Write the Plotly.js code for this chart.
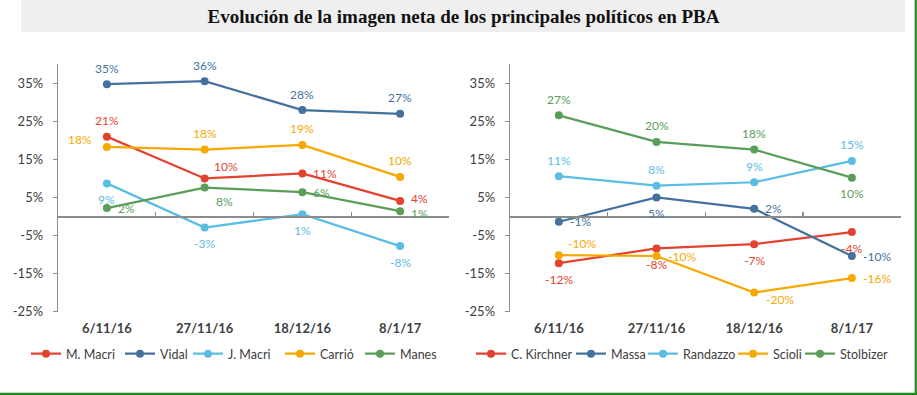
<!DOCTYPE html>
<html>
<head>
<meta charset="utf-8">
<script src="https://cdn.plot.ly/plotly-3.0.1.min.js"></script>
<style>html,body{margin:0;padding:0;background:#fff;}#chart{width:917px;height:395px;}</style>
</head>
<body>
<div id="chart"></div>
<script>
// ---- Data ----
const categories = ['6/11/16', '27/11/16', '18/12/16', '8/1/17'];
const yTickVals = [-25, -15, -5, 5, 15, 25, 35];
const yTickText = ['-25%', '-15%', '-5%', '5%', '15%', '25%', '35%'];
const titleText = 'Evolución de la imagen neta de los principales políticos en PBA';

// Left chart
const leftNames = ['M. Macri', 'Vidal', 'J. Macri', 'Carrió', 'Manes'];
const mMacri = [21.0, 10.0, 11.3, 4.1];
const vidal = [34.8, 35.6, 28.0, 27.0];
const jMacri = [8.7, -2.9, 0.6, -7.8];
const carrio = [18.3, 17.6, 18.8, 10.4];
const manes = [2.2, 7.6, 6.4, 1.4];

// Right chart
const rightNames = ['C. Kirchner', 'Massa', 'Randazzo', 'Scioli', 'Stolbizer'];
const cKirchner = [-12.3, -8.4, -7.3, -4.1];
const massa = [-1.4, 5.0, 2.0, -10.4];
const randazzo = [10.6, 8.1, 9.0, 14.6];
const scioli = [-10.2, -10.4, -20.0, -16.2];
const stolbizer = [26.6, 19.6, 17.6, 10.2];

// ---- Styles / layout ----
const colors = ['#E2432F', '#44719E', '#5BBDE2', '#F5A800', '#5A9E5A'];
const labelPos = {
  left: [
    ['t', 'tr', 'r', 'ru'],
    ['t', 't', 't', 't'],
    ['b', 'b', 'b', 'b'],
    ['tl', 't', 't', 't'],
    ['r', 'br', 'r', 'rd']
  ],
  right: [
    ['b', 'b', 'b', 'b'],
    ['r', 'b', 'r', 'r'],
    ['t', 't', 't', 't'],
    ['tr', 'r', 'rb', 'r'],
    ['t', 't', 't', 'b']
  ]
};
const posStyle = {
  t:  {xanchor: 'center', xshift: 0,   yshift: 16},
  b:  {xanchor: 'center', xshift: 0,   yshift: -16},
  r:  {xanchor: 'left',   xshift: 9,   yshift: 0},
  ru: {xanchor: 'left',   xshift: 9,   yshift: 2},
  rd: {xanchor: 'left',   xshift: 9,   yshift: -2},
  tl: {xanchor: 'right',  xshift: -13, yshift: 7},
  tr: {xanchor: 'left',   xshift: 7,   yshift: 12},
  br: {xanchor: 'left',   xshift: 9,   yshift: -14},
  rb: {xanchor: 'left',   xshift: 10,  yshift: -7}
};
// legend entry text start (px) for each series
const legendTextStartL = [66, 160, 228, 320, 400];
const legendTextStartR = [511, 611, 683, 773, 840];

const W = 917, H = 395;
const xDomL = [58 / W, 449 / W];
const xDomR = [510 / W, 900.7 / W];
const yDom = [1 - 311.5 / H, 1 - 64.4 / H];
const yRange = [-25, 40];
const zeroPos = yDom[0] + (0 - yRange[0]) / (yRange[1] - yRange[0]) * (yDom[1] - yDom[0]);

const font = 'Lato, "Open Sans", sans-serif';
const traces = [];
const annotations = [];
const legends = {};
let legendCount = 0;

function legendCfg(textStart) {
  return {
    orientation: 'h', x: (textStart - 40) / W, xanchor: 'left',
    y: 1 - 354 / H, yanchor: 'middle',
    font: {family: font, size: 12.5, color: '#404040'},
    itemwidth: 30, bgcolor: 'rgba(0,0,0,0)', borderwidth: 0
  };
}

function addChart(names, series, xa, ya, posList, textStarts) {
  series.forEach((vals, i) => {
    legendCount += 1;
    const lid = legendCount === 1 ? 'legend' : 'legend' + legendCount;
    legends[lid] = legendCfg(textStarts[i]);
    traces.push({
      type: 'scatter', mode: 'lines+markers',
      name: names[i], x: categories, y: vals,
      xaxis: xa, yaxis: ya, legend: lid,
      line: {color: colors[i], width: 2.25},
      marker: {color: colors[i], size: 8},
      hoverinfo: 'skip'
    });
    vals.forEach((v, j) => {
      const p = posStyle[posList[i][j]];
      annotations.push({
        xref: xa, yref: ya, x: categories[j], y: v,
        text: Math.round(v) + '%', showarrow: false,
        xanchor: p.xanchor, yanchor: 'middle',
        xshift: p.xshift, yshift: p.yshift,
        font: {family: font, size: 12, color: colors[i]}
      });
    });
  });
}

addChart(leftNames, [mMacri, vidal, jMacri, carrio, manes], 'x', 'y', labelPos.left, legendTextStartL);
addChart(rightNames, [cKirchner, massa, randazzo, scioli, stolbizer], 'x2', 'y2', labelPos.right, legendTextStartR);

// dummy traces for the zero-crossing axes
traces.push({type: 'scatter', x: [], y: [], xaxis: 'x3', yaxis: 'y', showlegend: false, hoverinfo: 'skip'});
traces.push({type: 'scatter', x: [], y: [], xaxis: 'x4', yaxis: 'y2', showlegend: false, hoverinfo: 'skip'});

const axisGray = '#8C8C8C';
function catAxis(domain, anchor) {
  return {
    domain: domain, anchor: anchor, type: 'category', range: [-0.5, 3.5],
    showline: false, showgrid: false, zeroline: false, ticks: '',
    tickfont: {family: font, size: 13, color: '#404040', weight: 'bold'},
    ticklabelstandoff: 7, fixedrange: true
  };
}
function valAxis(anchor) {
  return {
    domain: yDom, anchor: anchor, range: yRange,
    tickmode: 'array', tickvals: yTickVals, ticktext: yTickText,
    showline: true, linecolor: axisGray, linewidth: 1.3,
    ticks: 'outside', ticklen: 4, tickcolor: axisGray, tickwidth: 1.3,
    showgrid: false, zeroline: false,
    tickfont: {family: font, size: 13, color: '#404040'},
    ticklabelstandoff: 7, fixedrange: true
  };
}
function zeroAxis(over) {
  return {
    overlaying: over, anchor: 'free', position: zeroPos, range: [-0.5, 3.5],
    tickmode: 'array', tickvals: [0.5, 1.5, 2.5, 3.5],
    ticks: 'inside', ticklen: 4, tickcolor: axisGray, tickwidth: 1.3,
    showticklabels: false, showline: true, linecolor: axisGray, linewidth: 1.3,
    showgrid: false, zeroline: false, fixedrange: true
  };
}

const layout = Object.assign({
  width: W, height: H,
  margin: {l: 0, r: 0, t: 0, b: 0},
  paper_bgcolor: '#ffffff', plot_bgcolor: 'rgba(0,0,0,0)',
  title: {
    text: '<b>' + titleText + '</b>',
    font: {family: '"Liberation Serif", "DejaVu Serif", serif', size: 19, color: '#111'},
    x: 463.5 / W, xanchor: 'center', xref: 'paper',
    y: 1 - 16 / H, yanchor: 'middle', yref: 'paper'
  },
  xaxis: catAxis(xDomL, 'y'),
  yaxis: valAxis('x'),
  xaxis2: catAxis(xDomR, 'y2'),
  yaxis2: valAxis('x2'),
  xaxis3: zeroAxis('x'),
  xaxis4: zeroAxis('x2'),
  annotations: annotations,
  shapes: [
    {type: 'rect', xref: 'paper', yref: 'paper', x0: 21 / W, x1: 905 / W, y0: 1 - 32 / H, y1: 1,
     fillcolor: '#EFEFEF', line: {width: 0}, layer: 'below'},
    {type: 'line', xref: 'paper', yref: 'paper', x0: 915.8 / W, x1: 915.8 / W, y0: 0, y1: 1,
     line: {color: '#1E8C1E', width: 2.2}},
    {type: 'line', xref: 'paper', yref: 'paper', x0: 0, x1: 1, y0: 1 - 393.8 / H, y1: 1 - 393.8 / H,
     line: {color: '#1E8C1E', width: 2.2}}
  ],
  showlegend: true
}, legends);

Plotly.newPlot('chart', traces, layout, {displayModeBar: false, staticPlot: true});
</script>
</body>
</html>
